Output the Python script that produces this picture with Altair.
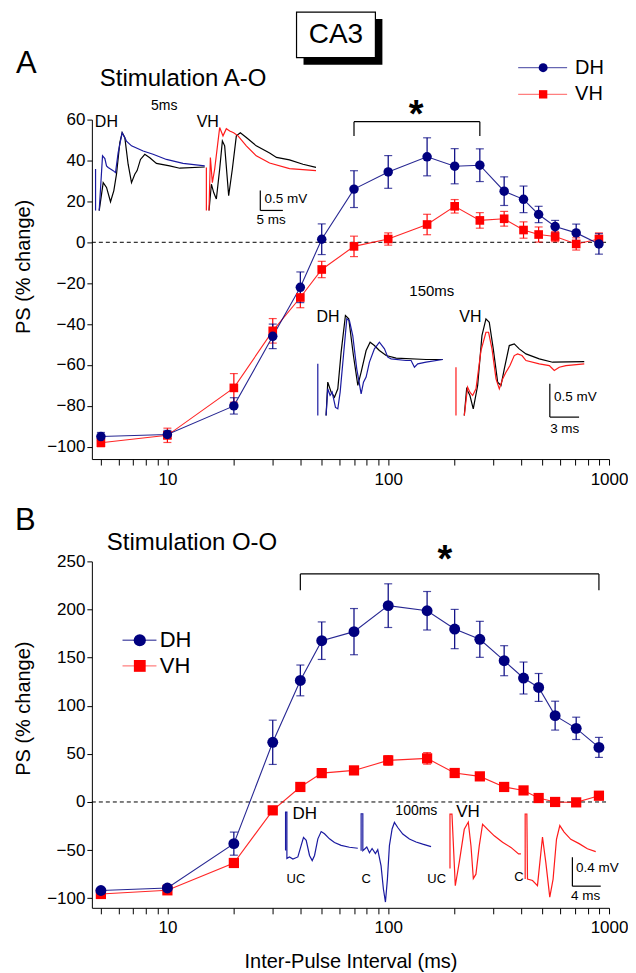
import altair as alt
import pandas as pd

FONT = "Liberation Sans"
NAVY = "#00007f"
RED = "#ff0000"
TBLUE = "#1a1aa0"
TRED = "#ff1a1a"

# ---------------- main data ----------------
intervals = [5, 10, 20, 30, 40, 50, 70, 100, 150, 200, 260, 335, 410, 480, 570, 710, 900]

a_dh = [-95, -94, -80, -46, -22, 1.5, 26, 34.4, 41.8, 37.2, 37.7, 25, 21, 13.6, 7.7, 4.6, -0.8]
a_dh_err = [2, 2, 4, 6, 7.5, 7.5, 9, 8, 9.3, 8.6, 8, 7, 6.5, 4, 3, 4.3, 5]
a_vh = [-98, -94.4, -71.2, -43.3, -27, -13.3, -2, 1.6, 8.7, 17.6, 10.7, 11.5, 6, 3.8, 2.8, -0.8, 1.6]
a_vh_err = [2, 3.5, 7, 6, 5, 4, 5, 3, 5, 3.3, 3.8, 3.6, 4, 3.7, 2.5, 3, 3]

b_dh = [-92, -89.4, -43.3, 62, 126.3, 167.6, 177, 204, 198.7, 179.7, 169, 146.8, 128.8, 119, 89.7, 76.5, 56.7]
b_dh_err = [3, 3, 12, 23, 16, 19.5, 24, 22.7, 20, 20.4, 18.7, 15.6, 16.6, 14.5, 15, 11.6, 10.4]
b_vh = [-95.6, -91.8, -63.4, -8.7, 15.6, 30, 32.8, 43.2, 45.3, 30.1, 26.6, 15.6, 12, 4.1, 0, -0.4, 6.5]
b_vh_err = [2, 2, 3, 3, 3, 4, 4, 5, 6, 4, 3, 3, 3, 3, 3, 3, 3]

a_bracket = [70, 260]
a_bracket_y = [52, 59]
b_bracket = [40, 900]
b_bracket_y = [220, 237]

x_ticks = [5, 6, 7, 8, 9, 10, 20, 30, 40, 50, 60, 70, 80, 90, 100,
           200, 300, 400, 500, 600, 700, 800, 900, 1000]
a_y_ticks = [-100, -80, -60, -40, -20, 0, 20, 40, 60]
b_y_ticks = [-100, -50, 0, 50, 100, 150, 200, 250]

# ---------------- inset traces (ms, mV) ----------------
a5_dh_ctl_t = [0.81, 1.7, 2.44, 3.33, 4.07, 4.66, 5.4, 5.92, 6.51, 7.25, 8.0, 8.73, 9.25, 10.0, 10.96, 12.07, 13.55, 16.5, 18.74, 24.3]
a5_dh_ctl_v = [-1.12, -0.42, -0.54, -0.9, -0.62, -0.21, 0.58, 0.83, 0.71, 0.04, -0.42, -0.21, -0.12, 0.16, 0.29, 0.2, 0.06, 0.0, -0.06, -0.03]
a5_dh_t = [0, 0, 0.81, 1.55, 2.07, 2.44, 2.8, 3.33, 3.92, 4.44, 5.03, 5.92, 6.88, 8.0, 10.59, 12.8, 15.77, 19.47, 24.3]
a5_dh_v = [-0.08, -1.12, -1.12, 0.25, 0.18, 0.0, -0.04, -0.08, -0.12, -0.17, 0.33, 0.83, 0.62, 0.5, 0.37, 0.29, 0.16, 0.06, 0.0]
a5_vh_ctl_t = [0.59, 1.11, 1.63, 2.22, 2.96, 3.56, 4.07, 4.96, 5.78, 6.67, 7.56, 8.89, 11.1, 14.07, 15.6, 18.5, 21.5, 24.4]
a5_vh_ctl_v = [-1.12, -0.46, -0.67, -0.83, -0.08, 0.62, 0.5, -0.75, -0.08, 0.75, 0.83, 0.71, 0.5, 0.32, 0.21, 0.15, 0.04, -0.04]
a5_vh_t = [0, 0, 0.59, 0.89, 1.33, 1.85, 2.96, 3.7, 4.44, 5.19, 6.07, 7.04, 8.89, 11.1, 14.07, 18.5, 24.4]
a5_vh_v = [-0.04, -1.12, -1.12, 0.21, -0.42, -0.08, 0.96, 0.75, 0.93, 0.87, 0.83, 0.75, 0.5, 0.25, 0.07, -0.07, -0.12]

a150_dh_t = [0, 0, 0.85, 1.02, 1.26, 1.47, 1.81, 2.05, 2.29, 2.63, 2.97, 3.24, 3.58, 3.99, 4.44, 4.68, 4.95, 5.29, 5.8, 6.31, 6.83, 7.17, 7.51, 9.04, 9.56, 9.9, 10.24, 11.09, 12.8]
a150_dh_v = [-0.065, -0.84, -0.84, -0.44, -0.54, -0.49, -0.72, -0.74, -0.49, 0.06, 0.61, 0.585, 0.36, -0.14, -0.515, -0.34, -0.265, -0.04, 0.16, 0.26, 0.16, 0.035, 0.01, -0.015, -0.015, -0.115, -0.065, -0.04, 0]
a150_dh_ctl_t = [0.85, 1.02, 1.37, 1.71, 2.05, 2.39, 2.83, 3.17, 3.65, 4.1, 4.44, 4.95, 5.36, 5.8, 6.31, 7.0, 8.02, 11.09, 12.8]
a150_dh_ctl_v = [-0.84, -0.34, -0.49, -0.565, -0.44, 0.11, 0.66, 0.61, 0.06, -0.39, -0.19, 0.135, 0.26, 0.21, 0.135, 0.06, 0.02, 0, 0]
a150_vh_t = [0, 0, 0.85, 1.19, 1.43, 1.71, 2.05, 2.56, 3.07, 3.34, 3.69, 4.1, 4.44, 4.78, 5.12, 5.53, 5.97, 6.31, 6.76, 7.17, 8.53, 9.56, 10.07, 10.58, 11.26, 13.14]
a150_vh_v = [-0.05, -0.775, -0.775, -0.35, -0.425, -0.475, -0.375, 0.2, 0.475, 0.475, 0.225, -0.225, -0.375, -0.225, -0.125, -0.025, 0.125, 0.15, 0.125, 0.05, 0, -0.025, -0.1, -0.05, -0.025, 0]
a150_vh_ctl_t = [0.85, 1.09, 1.43, 1.77, 2.22, 2.66, 3.07, 3.41, 3.82, 4.27, 4.61, 4.95, 5.46, 5.97, 6.48, 7.17, 8.53, 9.9, 13.14]
a150_vh_ctl_v = [-0.775, -0.375, -0.475, -0.675, -0.325, 0.425, 0.675, 0.625, 0.225, -0.275, -0.325, -0.075, 0.275, 0.3, 0.225, 0.15, 0.075, 0.025, 0.035]

b_dh_uc_t = [0, 0, 0.19, 0.19, 0.56, 1.04, 1.74, 2.21, 2.54, 2.92, 3.39, 3.77, 4.1, 4.57, 5.04, 5.51, 6.21, 6.92, 7.86, 9.04, 10.22]
b_dh_uc_v = [-0.03, 0.5, 0.5, -0.14, -0.12, -0.15, -0.12, 0.04, 0.15, 0.11, -0.1, -0.17, -0.1, 0.13, 0.23, 0.2, 0.13, 0.08, 0.04, 0.014, 0]
b_dh_c_t = [0, 0, 0.24, 0.24, 0.47, 0.8, 1.18, 1.55, 2.02, 2.35, 2.82, 3.15, 3.44, 3.72, 4.0, 4.38, 4.71, 5.18, 5.89, 6.83, 7.77, 8.71, 9.89]
b_dh_c_v = [-0.07, 0.44, 0.44, -0.07, -0.05, -0.02, -0.1, -0.04, -0.11, -0.055, -0.28, -0.6, -0.78, -0.46, 0, 0.23, 0.32, 0.25, 0.16, 0.09, 0.05, 0.02, -0.014]
b_vh_uc_t = [0, 0, 0.28, 0.75, 1.32, 2.02, 2.59, 2.97, 3.3, 3.67, 4.14, 4.61, 5.32, 6.26, 7.44, 8.62, 9.7, 10.03]
b_vh_uc_v = [-0.2, 0.55, 0.55, -0.44, -0.11, 0.34, 0.44, 0.11, -0.34, -0.28, 0.11, 0.41, 0.34, 0.25, 0.16, 0.09, 0, 0]
b_vh_c_t = [0, 0, 0.24, 0.33, 1.04, 1.74, 2.45, 2.92, 3.48, 3.95, 4.43, 4.9, 5.51, 6.45, 7.63, 8.8, 9.98]
b_vh_c_v = [-0.38, 0.52, 0.52, -0.38, -0.4, -0.47, 0.2, -0.15, -0.63, -0.38, 0.17, 0.36, 0.27, 0.17, 0.11, 0.04, 0]

W = 518
HA = 340
HB = 347
XDOM = [4.55, 1000]
MAJOR = "datum.value==10||datum.value==100||datum.value==1000"


def series_df(y, e):
    return pd.DataFrame({
        "ms": intervals, "ps": y,
        "lo": [a - b for a, b in zip(y, e)],
        "hi": [a + b for a, b in zip(y, e)],
    })


def main_group(dh, dhe, vh, vhe, ydom, yvals, cs, ss, bx, by, xtitle):
    dfd = series_df(dh, dhe)
    dfv = series_df(vh, vhe)
    xaxis = alt.Axis(values=x_ticks, labelExpr=f"({MAJOR}) ? format(datum.value,'d') : ''",
                     tickSize=6, labelFontSize=17, labelOverlap=False, labelFlush=False,
                     labelPadding=6, grid=False,
                     title=xtitle if xtitle else None, titleFontSize=20,
                     titleY=54, titleBaseline="middle")
    yaxis = alt.Axis(values=yvals, tickSize=5, labelFontSize=17, labelPadding=2, grid=False,
                     title="PS (% change)", titleFontSize=20, titleX=-68, titleY=147,
                     titleBaseline="middle")

    def xs():
        return alt.X("ms:Q", scale=alt.Scale(type="log", domain=XDOM, nice=False), axis=xaxis)

    def ys(field):
        return alt.Y(field, scale=alt.Scale(domain=ydom, nice=False, zero=False), axis=yaxis)

    zero = alt.Chart(pd.DataFrame({"ms": [XDOM[0]], "ms2": [XDOM[1]], "ps": [0]})).mark_rule(
        color="black", strokeDash=[4, 3], strokeWidth=1).encode(
        x=xs(), x2="ms2:Q", y=ys("ps:Q"))
    bdf = pd.DataFrame({"ms": [bx[0]], "ms2": [bx[1]], "ps": [by[1]]})
    bh = alt.Chart(bdf).mark_rule(color="black", strokeWidth=1.2).encode(
        x=xs(), x2="ms2:Q", y=ys("ps:Q"))
    bvdf = pd.DataFrame({"ms": bx, "ps": [by[0]] * 2, "ps2": [by[1]] * 2})
    bv = alt.Chart(bvdf).mark_rule(color="black", strokeWidth=1.2).encode(
        x=xs(), y=ys("ps:Q"), y2="ps2:Q")
    layers = [zero, bh, bv]
    for df, col in ((dfv, RED), (dfd, NAVY)):
        layers.append(alt.Chart(df).mark_line(color=col, strokeWidth=1.1, opacity=0.85).encode(
            x=xs(), y=ys("ps:Q")))
    for df, col in ((dfv, RED), (dfd, NAVY)):
        layers.append(alt.Chart(df).mark_rule(color=col, strokeWidth=1.2).encode(
            x=xs(), y=ys("lo:Q"), y2="hi:Q"))
        for f in ("lo", "hi"):
            layers.append(alt.Chart(df).mark_tick(color=col, orient="horizontal", size=8,
                                                  thickness=1.2).encode(x=xs(), y=ys(f + ":Q")))
    layers.append(alt.Chart(dfv).mark_point(shape="square", filled=True, opacity=1, color=RED,
                                            size=ss).encode(x=xs(), y=ys("ps:Q")))
    layers.append(alt.Chart(dfd).mark_point(shape="circle", filled=True, opacity=1, color=NAVY,
                                            size=cs).encode(x=xs(), y=ys("ps:Q")))
    return alt.layer(*layers)


def trace(t, v, color, xdom, xr, ydom, yr, sw=1.2, split=False):
    seg = [0 if (split and tt == 0) else 1 for tt in t]
    df = pd.DataFrame({"t": t, "v": v, "i": list(range(len(t))), "seg": seg})
    return alt.Chart(df).mark_line(color=color, strokeWidth=sw).encode(
        x=alt.X("t:Q", scale=alt.Scale(domain=xdom, range=xr, nice=False, zero=False), axis=None),
        y=alt.Y("v:Q", scale=alt.Scale(domain=ydom, range=yr, nice=False, zero=False), axis=None),
        detail="seg:N", order="i:Q")


def label(txt, x, y, size, align="left", baseline="middle", weight="normal"):
    return alt.Chart(pd.DataFrame({"s": [txt]})).mark_text(
        font=FONT, fontSize=size, align=align, baseline=baseline, color="black",
        fontWeight=weight).encode(x=alt.value(x), y=alt.value(y), text="s:N")


def hline(x1, x2, y, color="black", sw=1.2, opacity=1.0):
    return alt.Chart(pd.DataFrame({"k": [0]})).mark_rule(
        color=color, strokeWidth=sw, opacity=opacity).encode(
        x=alt.value(x1), x2=alt.value(x2), y=alt.value(y), y2=alt.value(y))


def vline(x, y1, y2, color="black", sw=1.2):
    return alt.Chart(pd.DataFrame({"k": [0]})).mark_rule(color=color, strokeWidth=sw).encode(
        x=alt.value(x), x2=alt.value(x), y=alt.value(y1), y2=alt.value(y2))


def marker(shape, color, size, x, y):
    return alt.Chart(pd.DataFrame({"k": [0]})).mark_point(
        shape=shape, filled=True, opacity=1, color=color, size=size).encode(
        x=alt.value(x), y=alt.value(y))


def rect(x1, x2, y1, y2, fill, stroke=None):
    kw = dict(fill=fill)
    if stroke:
        kw.update(stroke=stroke, strokeWidth=1.2)
    return alt.Chart(pd.DataFrame({"k": [0]})).mark_rect(**kw).encode(
        x=alt.value(x1), x2=alt.value(x2), y=alt.value(y1), y2=alt.value(y2))


# ---------------- panel A ----------------
mainA = main_group(a_dh, a_dh_err, a_vh, a_vh_err, [-106, 60], a_y_ticks, 90, 75,
                   a_bracket, a_bracket_y, None)

yA1 = ([-1.2, 1.0], [94.3, 6.3])
yA2d = ([-0.9, 0.7], [300.3, 193.6])
yA2v = ([-0.9, 0.7], [304.7, 198])
insetA = [
    alt.layer(trace(a5_dh_ctl_t, a5_dh_ctl_v, "black", [0, 25], [3.7, 116.2], *yA1),
              trace(a5_dh_t, a5_dh_v, TBLUE, [0, 25], [3.7, 116.2], *yA1, split=True)),
    alt.layer(trace(a5_vh_ctl_t, a5_vh_ctl_v, "black", [0, 25], [114.7, 227.2], *yA1),
              trace(a5_vh_t, a5_vh_v, TRED, [0, 25], [114.7, 227.2], *yA1, split=True)),
    alt.layer(trace(a150_dh_ctl_t, a150_dh_ctl_v, "black", [0, 13], [226.3, 353.4], *yA2d),
              trace(a150_dh_t, a150_dh_v, TBLUE, [0, 13], [226.3, 353.4], *yA2d, split=True)),
    alt.layer(trace(a150_vh_ctl_t, a150_vh_ctl_v, "black", [0, 13.5], [364.7, 496.7], *yA2v),
              trace(a150_vh_t, a150_vh_v, TRED, [0, 13.5], [364.7, 496.7], *yA2v, split=True)),
]

decoA = [
    rect(212, 291, -100.7, -55, "black"),
    rect(205, 284, -107.7, -62, "white", "black"),
    label("CA3", 244.5, -84.5, 28, align="center"),
    label("A", -76, -56, 31),
    label("Stimulation A-O", 8, -34, 24, baseline="alphabetic"),
    hline(427, 476, -52, NAVY, 1.3, 0.6), marker("circle", NAVY, 80, 452, -52),
    label("DH", 484, -52, 20),
    hline(427, 476, -25.3, RED, 1.3, 0.5), marker("square", RED, 70, 452, -25.3),
    label("VH", 484, -25.3, 20),
    label("*", 324.7, 7, 38, align="center", baseline="alphabetic", weight="bold"),
    label("5ms", 72.5, -14, 14, align="center"),
    label("DH", 3, 2, 16),
    label("VH", 105, 2, 16),
    vline(168.7, 71, 91), hline(168.7, 191.3, 91),
    label("0.5 mV", 173, 79.5, 13.5),
    label("5 ms", 165, 101, 13.5),
    label("150ms", 340.5, 172, 15, align="center"),
    label("DH", 225, 198, 16),
    label("VH", 368, 198, 16),
    vline(458.7, 264.7, 298), hline(458.7, 488, 298),
    label("0.5 mV", 463, 278, 13.5),
    label("3 ms", 459, 309.7, 13.5),
]

panelA = alt.layer(mainA, *insetA, *decoA).resolve_scale(x="independent", y="independent").properties(
    width=W, height=HA)

# ---------------- panel B ----------------
mainB = main_group(b_dh, b_dh_err, b_vh, b_vh_err, [-110, 250], b_y_ticks, 120, 105,
                   b_bracket, b_bracket_y, "Inter-Pulse Interval (ms)")

insetB = [
    trace(b_dh_uc_t, b_dh_uc_v, TBLUE, [0, 11], [194, 271.9], [-0.9, 0.6], [352.6, 243.8]),
    trace(b_dh_c_t, b_dh_c_v, TBLUE, [0, 11], [269.7, 347.6], [-0.9, 0.6], [349.9, 241.2]),
    trace(b_vh_uc_t, b_vh_uc_v, TRED, [0, 11], [358.7, 436.6], [-0.9, 0.6], [358.25, 249.5]),
    trace(b_vh_c_t, b_vh_c_v, TRED, [0, 11], [434, 511.9], [-0.9, 0.6], [355.9, 247.2]),
]

decoB = [
    label("B", -77, -40, 31),
    label("Stimulation O-O", 15, -11, 24, baseline="alphabetic"),
    hline(30.7, 64.7, 79, NAVY, 1.3, 0.6), marker("circle", NAVY, 150, 48, 79),
    label("DH", 68, 79, 22),
    hline(30.7, 64.7, 104.7, RED, 1.3, 0.5), marker("square", RED, 140, 48, 104.7),
    label("VH", 68, 104.7, 22),
    label("*", 353.7, 11, 38, align="center", baseline="alphabetic", weight="bold"),
    label("DH", 201, 253, 17),
    label("100ms", 325, 250, 14, align="center"),
    label("VH", 365, 251, 17),
    label("UC", 195, 318, 13),
    label("C", 270, 318, 13),
    label("UC", 336, 318, 13),
    label("C", 423, 316, 13),
    vline(481.3, 296.3, 325.3), hline(481.3, 509.7, 325.3),
    label("0.4 mV", 485, 307, 13.5),
    label("4 ms", 480, 335, 13.5),
]

panelB = alt.layer(mainB, *insetB, *decoB).resolve_scale(x="independent", y="independent").properties(
    width=W, height=HB)

chart = alt.vconcat(panelA, panelB, spacing=18.5).properties(
    padding={"top": 2, "left": 6, "right": 0, "bottom": 0}
).configure_view(stroke=None).configure_axis(
    labelFont=FONT, titleFont=FONT, labelColor="black", titleColor="black",
    domainColor="black", tickColor="black", titleFontWeight="normal",
    domainWidth=1, tickWidth=1
).configure_text(font=FONT)

chart.save("out.html", embed_options={"renderer": "svg", "actions": False})
